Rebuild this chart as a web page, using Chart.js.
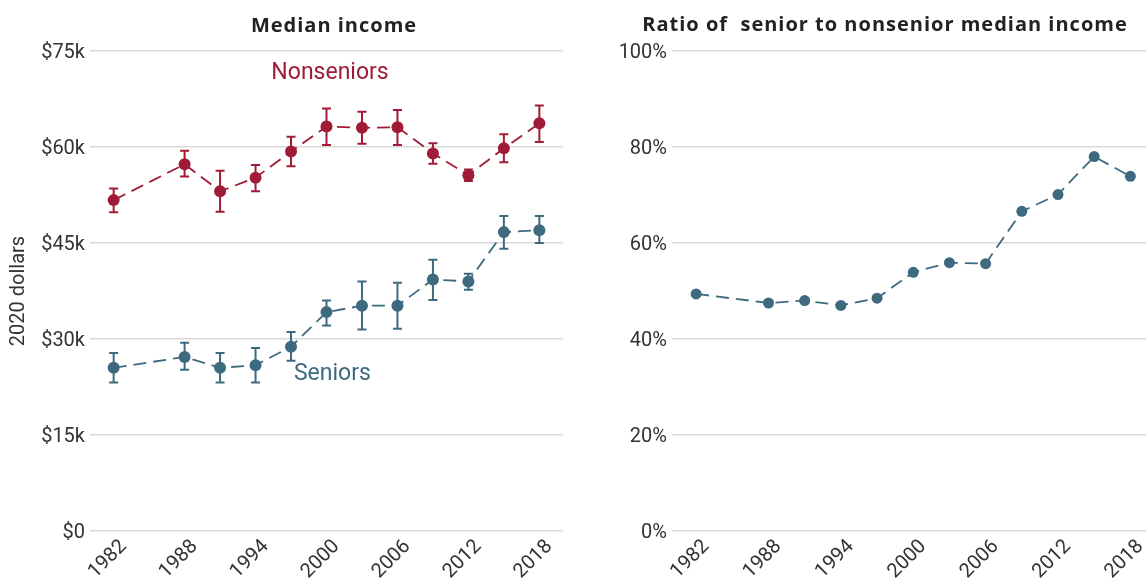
<!DOCTYPE html>
<html>
<head>
<meta charset="utf-8">
<script src="https://cdn.jsdelivr.net/npm/chart.js@4.4.0/dist/chart.umd.min.js"></script>
<style>
  html, body { margin: 0; padding: 0; background: #fff; overflow: hidden; }
  #wrap { position: relative; width: 1146px; height: 584px; overflow: hidden; }
  .panel { position: absolute; top: 0; height: 584px; }
  #leftPanel { left: 0; width: 580px; }
  #rightPanel { left: 600px; width: 560px; }
  .title { position: absolute; font: bold 20px "Open Sans", sans-serif; letter-spacing: 1px; color: #222; white-space: pre; transform: translate(-50%, -50%); }
</style>
</head>
<body>
<div id="wrap">
  <div class="panel" id="leftPanel"><canvas id="incomeChart"></canvas></div>
  <div class="panel" id="rightPanel"><canvas id="ratioChart"></canvas></div>
  <div class="title" style="left:334px;top:24px;">Median income</div>
  <div class="title" style="left:885px;top:23px;">Ratio of  senior to nonsenior median income</div>
</div>
<script>
const years = [1982, 1988, 1991, 1994, 1997, 2000, 2003, 2006, 2009, 2012, 2015, 2018];
// thousands of 2020 dollars
const nonseniorIncome = [51.7, 57.3, 53.1, 55.2, 59.3, 63.2, 63.0, 63.1, 59.0, 55.6, 59.8, 63.7];
const nonseniorLow = [49.8, 55.4, 49.9, 53.1, 57.0, 60.3, 60.5, 60.3, 57.4, 54.7, 57.6, 60.8];
const nonseniorHigh = [53.5, 59.4, 56.3, 57.2, 61.6, 66.0, 65.5, 65.8, 60.6, 56.5, 62.0, 66.5];
const seniorIncome = [25.5, 27.2, 25.5, 25.9, 28.8, 34.2, 35.2, 35.2, 39.3, 39.0, 46.7, 47.0];
const seniorLow = [23.2, 25.2, 23.2, 23.2, 26.6, 32.1, 31.5, 31.6, 36.1, 37.7, 44.1, 45.0];
const seniorHigh = [27.8, 29.4, 27.8, 28.6, 31.1, 36.0, 39.0, 38.8, 42.4, 40.2, 49.2, 49.2];
// percent
const seniorRatio = [49.4, 47.5, 48.0, 47.0, 48.5, 53.9, 55.9, 55.7, 66.6, 70.1, 78.0, 73.9];

const yearTicks = [1982, 1988, 1994, 2000, 2006, 2012, 2018];
const incomeTicks = [0, 15, 30, 45, 60, 75];
const ratioTicks = [0, 20, 40, 60, 80, 100];

const RED = '#a01b35';
const BLUE = '#3e6a80';
const tickFont = { family: 'Roboto, sans-serif', size: 20 };

function toPoints(values) {
    return years.map((y, i) => ({ x: y, y: values[i] }));
}

// vertical error bars with caps, drawn from each dataset's low/high arrays
const errorBars = {
    id: 'errorBars',
    beforeDatasetsDraw(chart) {
        const ctx = chart.ctx;
        const xs = chart.scales.x, ys = chart.scales.y;
        chart.data.datasets.forEach(ds => {
            if (!ds.errLow) return;
            ctx.save();
            ctx.strokeStyle = ds.borderColor;
            ctx.lineWidth = 2;
            years.forEach((yr, i) => {
                const px = xs.getPixelForValue(yr);
                const top = ys.getPixelForValue(ds.errHigh[i]);
                const bot = ys.getPixelForValue(ds.errLow[i]);
                ctx.beginPath();
                ctx.moveTo(px, top); ctx.lineTo(px, bot);
                ctx.moveTo(px - 4.5, top); ctx.lineTo(px + 4.5, top);
                ctx.moveTo(px - 4.5, bot); ctx.lineTo(px + 4.5, bot);
                ctx.stroke();
            });
            ctx.restore();
        });
    }
};

// series names written next to the lines
const seriesLabels = {
    id: 'seriesLabels',
    afterDatasetsDraw(chart) {
        const ctx = chart.ctx;
        chart.data.datasets.forEach(ds => {
            if (!ds.labelAt) return;
            ctx.save();
            ctx.fillStyle = ds.borderColor;
            ctx.font = '23px Roboto, sans-serif';
            ctx.textAlign = 'center';
            ctx.textBaseline = 'middle';
            ctx.fillText(ds.label, chart.scales.x.getPixelForValue(ds.labelAt[0]), chart.scales.y.getPixelForValue(ds.labelAt[1]));
            ctx.restore();
        });
    }
};

function xAxis() {
    return {
        type: 'linear',
        min: 1980,
        max: 2020,
        afterBuildTicks: s => { s.ticks = yearTicks.map(v => ({ value: v })); },
        afterFit: s => { s.height = 53; },
        grid: { display: false, drawTicks: false },
        border: { display: false },
        ticks: {
            minRotation: 45, maxRotation: 45,
            font: tickFont, color: '#333',
            padding: 4,
            labelOffset: 10,
            callback: v => String(v)
        }
    };
}

function lineDataset(label, values, color, radius) {
    return {
        label: label,
        data: toPoints(values),
        borderColor: color,
        backgroundColor: color,
        borderWidth: 1.8,
        borderDash: [13, 7],
        pointRadius: radius,
        pointHoverRadius: radius,
        pointBorderWidth: 0,
        tension: 0
    };
}

const nonseniorSet = lineDataset('Nonseniors', nonseniorIncome, RED, 6);
nonseniorSet.errLow = nonseniorLow;
nonseniorSet.errHigh = nonseniorHigh;
nonseniorSet.labelAt = [2000.3, 71.6];

const seniorSet = lineDataset('Seniors', seniorIncome, BLUE, 6);
seniorSet.errLow = seniorLow;
seniorSet.errHigh = seniorHigh;
seniorSet.labelAt = [2000.5, 24.5];

new Chart(document.getElementById('incomeChart'), {
    type: 'line',
    data: { datasets: [nonseniorSet, seniorSet] },
    options: {
        responsive: true,
        maintainAspectRatio: false,
        animation: false,
        layout: { padding: { top: 51, right: 17, left: 0, bottom: 0 } },
        plugins: { legend: { display: false }, tooltip: { enabled: false } },
        scales: {
            x: xAxis(),
            y: {
                min: 0, max: 75,
                afterBuildTicks: s => { s.ticks = incomeTicks.map(v => ({ value: v })); },
                afterFit: s => { s.width = 90; },
                grid: { color: '#d9d9d9', lineWidth: 1.5, drawTicks: false },
                border: { display: false },
                title: { display: true, text: '2020 dollars', font: tickFont, color: '#333', padding: { top: 7, bottom: 0 } },
                ticks: { font: tickFont, color: '#333', padding: 5, labelOffset: 2, callback: v => v === 0 ? '$0' : '$' + v + 'k' }
            }
        }
    },
    plugins: [errorBars, seriesLabels]
});

new Chart(document.getElementById('ratioChart'), {
    type: 'line',
    data: { datasets: [lineDataset('Ratio', seniorRatio, BLUE, 5.5)] },
    options: {
        responsive: true,
        maintainAspectRatio: false,
        animation: false,
        layout: { padding: { top: 51, right: 4, left: 0, bottom: 0 } },
        plugins: { legend: { display: false }, tooltip: { enabled: false } },
        scales: {
            x: xAxis(),
            y: {
                min: 0, max: 100,
                afterBuildTicks: s => { s.ticks = ratioTicks.map(v => ({ value: v })); },
                afterFit: s => { s.width = 72; },
                grid: { color: '#d9d9d9', lineWidth: 1.5, drawTicks: false },
                border: { display: false },
                ticks: { font: tickFont, color: '#333', padding: 5, labelOffset: 2, callback: v => v + '%' }
            }
        }
    }
});
</script>
</body>
</html>
